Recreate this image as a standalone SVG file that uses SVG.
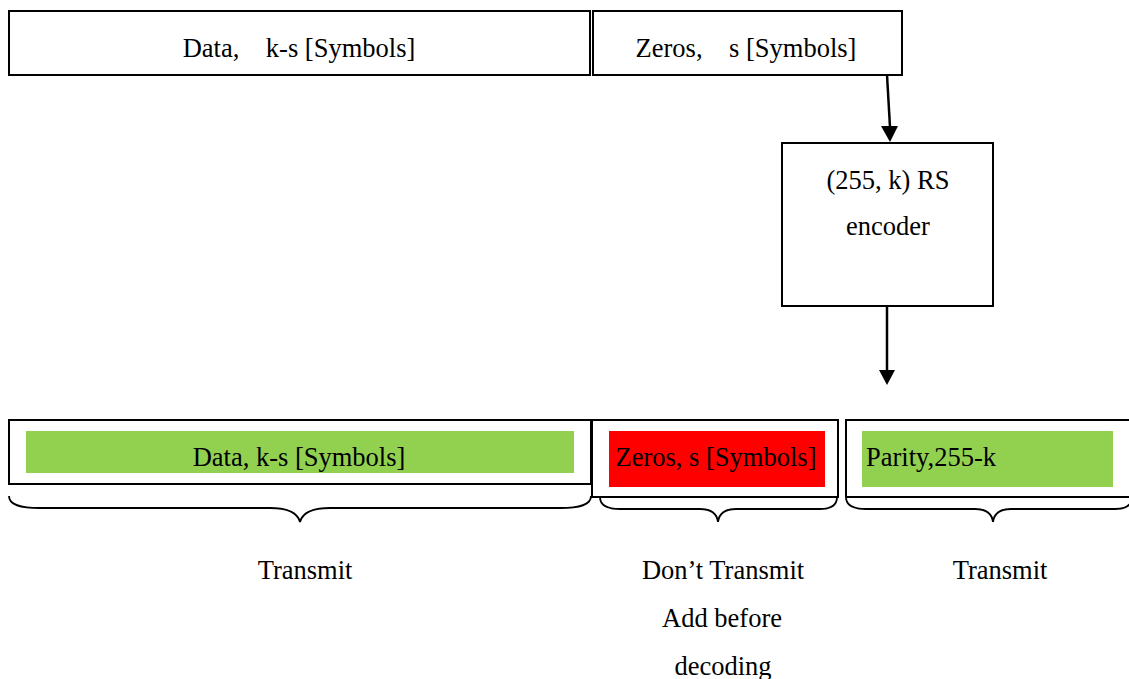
<svg xmlns="http://www.w3.org/2000/svg" width="1129" height="679" viewBox="0 0 1129 679">
<style>
.box{fill:#fff;stroke:#000;stroke-width:2}
.t{font-family:"Liberation Serif","Times New Roman",serif;font-size:26.5px;fill:#000;white-space:pre}
.c{text-anchor:middle}
.line{stroke:#000;stroke-width:2.5;fill:none}
.brace{stroke:#000;stroke-width:1.8;fill:none}
</style>
<g id="top-data">
<rect class="box" x="9" y="11" width="581" height="64"/>
<text class="t c" x="299" y="57">Data,    k-s [Symbols]</text>
</g>
<g id="top-zeros">
<rect class="box" x="593" y="11" width="309" height="64"/>
<text class="t c" x="746" y="57">Zeros,    s [Symbols]</text>
</g>
<g id="encoder">
<rect class="box" x="782" y="143" width="211" height="163"/>
<text class="t c" x="888" y="189">(255, k) RS</text>
<text class="t c" x="888" y="235">encoder</text>
</g>
<g id="bottom-data">
<rect class="box" x="9" y="420" width="582" height="64"/>
<rect x="26" y="431" width="548" height="42" fill="#92d050"/>
<text class="t c" x="299" y="466">Data, k-s [Symbols]</text>
</g>
<g id="bottom-zeros">
<rect class="box" x="592" y="420" width="246" height="77"/>
<rect x="609" y="431" width="216" height="56" fill="#ff0000"/>
<text class="t c" x="716" y="466">Zeros, s [Symbols]</text>
</g>
<g id="bottom-parity">
<rect class="box" x="846" y="420" width="290" height="77"/>
<rect x="862" y="431" width="251" height="56" fill="#92d050"/>
<text class="t" x="866" y="466">Parity,255-k</text>
</g>
<g id="connectors">
<line class="line" x1="887" y1="75" x2="890" y2="127"/>
<path d="M881,126 L898,126 L890,142 z" fill="#000"/>
<line class="line" x1="887" y1="306" x2="887" y2="371"/>
<path d="M879,370 L895,370 L887,385 z" fill="#000"/>
</g>
<g id="braces">
<path class="brace" d="M9,496 C9,505 20,508 40,508 L270,508 C290,508 298,514 300,522 C302,514 310,508 330,508 L560,508 C580,508 591,505 591,496"/>
<path class="brace" d="M600,497 C600,505 606,509 620,509 L700,509 C712,509 717,514 718,522 C719,514 724,509 736,509 L820,509 C832,509 837,505 837,497"/>
<path class="brace" d="M846,497 C846,505 852,509 866,509 L975,509 C987,509 992,514 993,522 C994,514 999,509 1011,509 L1115,509 C1127,509 1132,505 1132,497"/>
</g>
<g id="labels">
<text class="t c" x="305" y="579">Transmit</text>
<text class="t c" x="723" y="579">Don’t Transmit</text>
<text class="t c" x="722" y="627">Add before</text>
<text class="t c" x="723" y="675">decoding</text>
<text class="t c" x="1000" y="579">Transmit</text>
</g>
</svg>
